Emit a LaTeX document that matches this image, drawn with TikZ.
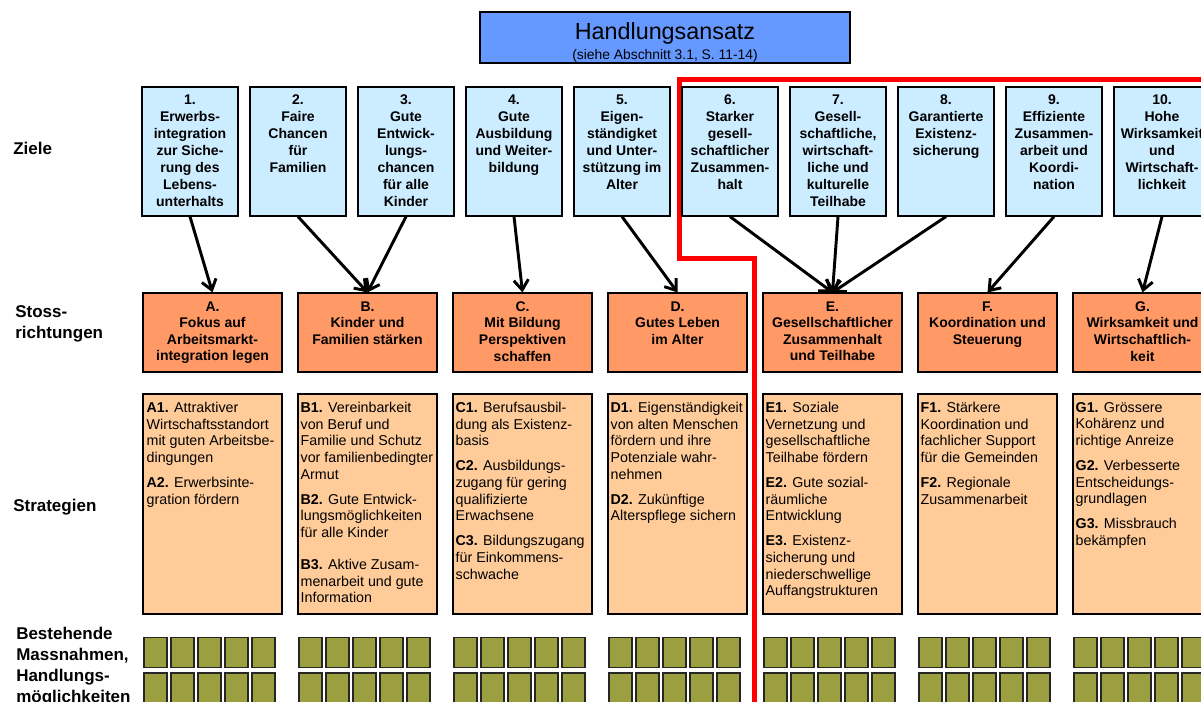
\documentclass[tikz,border=0pt]{standalone}
\usepackage{fontspec}
\setmainfont{Liberation Sans}
\usetikzlibrary{arrows.meta}
\definecolor{goalblue}{HTML}{CCECFF}
\definecolor{stossorange}{HTML}{FF9966}
\definecolor{stratorange}{HTML}{FFCC99}
\definecolor{titleblue}{HTML}{6699FF}
\definecolor{massgreen}{HTML}{9C9F3F}
\definecolor{redline}{HTML}{FF0000}
\tikzset{
  goal/.style={draw=black, line width=0.9pt, fill=goalblue, minimum width=72pt, minimum height=96.75pt, inner sep=0pt},
  stoss/.style={draw=black, line width=0.9pt, fill=stossorange, minimum width=104.25pt, minimum height=59.25pt, inner sep=0pt},
  strat/.style={draw=black, line width=0.9pt, fill=stratorange, minimum width=104.25pt, minimum height=165pt, inner sep=0pt},
  mass/.style={draw=black!85, line width=1pt, fill=massgreen, minimum width=17.25pt, inner sep=0pt},
  gtext/.style={anchor=north, inner sep=0pt, align=center, font=\fontsize{10.5pt}{12.75pt}\selectfont\bfseries},
  stext/.style={anchor=north, inner sep=0pt, align=center, font=\fontsize{10.5pt}{12.4pt}\selectfont\bfseries},
  ttext/.style={anchor=north west, inner sep=0pt, align=left, font=\fontsize{10.7pt}{12.5pt}\selectfont},
  side/.style={anchor=west, inner sep=0pt, align=left, font=\fontsize{12.75pt}{15.75pt}\selectfont\bfseries},
  arr/.style={line width=2.2pt, -{Straight Barb[length=7.5pt, width=11pt]}},
  redpath/.style={draw=redline, line width=3.75pt},
}
\begin{document}
\begin{tikzpicture}[x=0.75pt, y=-0.75pt]
\clip (0,0) rectangle (1201,701);
\fill[white] (0,0) rectangle (1201,701);

% title
\node[draw=black, line width=0.9pt, fill=titleblue, minimum width=277.5pt, minimum height=38.25pt, inner sep=0pt] (title) at (665,37.5) {};
\node[anchor=base, inner sep=0pt, font=\fontsize{17.5pt}{21pt}\selectfont] (titlet) at (665,39.5) {Handlungsansatz};
\node[anchor=base, inner sep=0pt, font=\fontsize{10.4pt}{12pt}\selectfont] (titles) at (665,59) {(siehe Abschnitt 3.1, S. 11-14)};

% red boundary
\draw[redpath] (1210,79) -- (679,79) -- (679,258) -- (754,258) -- (754,710);

% side labels
\node[side] (lz) at (13,148) {Ziele};
\node[side] (ls) at (15,324) {Stoss-\\richtungen};
\node[side] (lst) at (13,507) {Strategien};
\node[side, anchor=north west] (lb) at (16,627) {Bestehende\\Massnahmen,\\Handlungs-\\möglichkeiten};

% goals
\foreach \i in {1,...,10} {
  \node[goal] (g\i) at ({190+108*(\i-1)},151.5) {};
}
\node[gtext] (g1t) at ([yshift=-6pt]g1.north) {1.\\Erwerbs-\\integration\\zur Siche-\\rung des\\Lebens-\\unterhalts};
\node[gtext] (g2t) at ([yshift=-6pt]g2.north) {2.\\Faire\\Chancen\\für\\Familien};
\node[gtext] (g3t) at ([yshift=-6pt]g3.north) {3.\\Gute\\Entwick-\\lungs-\\chancen\\für alle\\Kinder};
\node[gtext] (g4t) at ([yshift=-6pt]g4.north) {4.\\Gute\\Ausbildung\\und Weiter-\\bildung};
\node[gtext] (g5t) at ([yshift=-6pt]g5.north) {5.\\Eigen-\\ständigket\\und Unter-\\stützung im\\Alter};
\node[gtext] (g6t) at ([yshift=-6pt]g6.north) {6.\\Starker\\gesell-\\schaftlicher\\Zusammen-\\halt};
\node[gtext] (g7t) at ([yshift=-6pt]g7.north) {7.\\Gesell-\\schaftliche,\\wirtschaft-\\liche und\\kulturelle\\Teilhabe};
\node[gtext] (g8t) at ([yshift=-6pt]g8.north) {8.\\Garantierte\\Existenz-\\sicherung};
\node[gtext] (g9t) at ([yshift=-6pt]g9.north) {9.\\Effiziente\\Zusammen-\\arbeit und\\Koordi-\\nation};
\node[gtext] (g10t) at ([yshift=-6pt]g10.north) {10.\\Hohe\\Wirksamkeit\\und\\Wirtschaft-\\lichkeit};

% stossrichtungen and strategies
\foreach \n [count=\k from 0] in {A,B,C,D,E,F,G} {
  \node[stoss] (s\n) at ({212.5+155*\k},332.5) {};
  \node[strat] (t\n) at ({212.5+155*\k},504) {};
}
\node[stext] (sAt) at ([yshift=-6.75pt]sA.north) {A.\\Fokus auf\\Arbeitsmarkt-\\integration legen};
\node[stext] (sBt) at ([yshift=-6.75pt]sB.north) {B.\\Kinder und\\Familien stärken};
\node[stext] (sCt) at ([yshift=-6.75pt]sC.north) {C.\\Mit Bildung\\Perspektiven\\schaffen};
\node[stext] (sDt) at ([yshift=-6.75pt]sD.north) {D.\\Gutes Leben\\im Alter};
\node[stext] (sEt) at ([yshift=-6.75pt]sE.north) {E.\\Gesellschaftlicher\\Zusammenhalt\\und Teilhabe};
\node[stext] (sFt) at ([yshift=-6.75pt]sF.north) {F.\\Koordination und\\Steuerung};
\node[stext] (sGt) at ([yshift=-6.75pt]sG.north) {G.\\Wirksamkeit und\\Wirtschaftlich-\\keit};

\node[ttext] (tAt) at ([xshift=3pt,yshift=-6.4pt]tA.north west) {\textbf{A1.} Attraktiver\\Wirtschaftsstandort\\mit guten Arbeitsbe-\\dingungen\\[6.2pt]\textbf{A2.} Erwerbsinte-\\gration fördern};
\node[ttext] (tBt) at ([xshift=2.25pt,yshift=-6.4pt]tB.north west) {\textbf{B1.} Vereinbarkeit\\von Beruf und\\Familie und Schutz\\vor familienbedingter\\Armut\\[6.2pt]\textbf{B2.} Gute Entwick-\\lungsmöglichkeiten\\für alle Kinder\\[11.4pt]\textbf{B3.} Aktive Zusam-\\menarbeit und gute\\Information};
\node[ttext] (tCt) at ([xshift=2.25pt,yshift=-6.4pt]tC.north west) {\textbf{C1.} Berufsausbil-\\dung als Existenz-\\basis\\[6.2pt]\textbf{C2.} Ausbildungs-\\zugang für gering\\qualifizierte\\Erwachsene\\[6.2pt]\textbf{C3.} Bildungszugang\\für Einkommens-\\schwache};
\node[ttext] (tDt) at ([xshift=2.25pt,yshift=-6.4pt]tD.north west) {\textbf{D1.} Eigenständigkeit\\von alten Menschen\\fördern und ihre\\Potenziale wahr-\\nehmen\\[6.2pt]\textbf{D2.} Zukünftige\\Alterspflege sichern};
\node[ttext] (tEt) at ([xshift=2.25pt,yshift=-6.4pt]tE.north west) {\textbf{E1.} Soziale\\Vernetzung und\\gesellschaftliche\\Teilhabe fördern\\[6.2pt]\textbf{E2.} Gute sozial-\\räumliche\\Entwicklung\\[6.2pt]\textbf{E3.} Existenz-\\sicherung und\\niederschwellige\\Auffangstrukturen};
\node[ttext] (tFt) at ([xshift=2.25pt,yshift=-6.4pt]tF.north west) {\textbf{F1.} Stärkere\\Koordination und\\fachlicher Support\\für die Gemeinden\\[6.2pt]\textbf{F2.} Regionale\\Zusammenarbeit};
\node[ttext] (tGt) at ([xshift=2.25pt,yshift=-6.4pt]tG.north west) {\textbf{G1.} Grössere\\Kohärenz und\\richtige Anreize\\[6.2pt]\textbf{G2.} Verbesserte\\Entscheidungs-\\grundlagen\\[6.2pt]\textbf{G3.} Missbrauch\\bekämpfen};

% existing measures
\foreach \n [count=\k from 0] in {A,B,C,D,E,F,G} {
  \foreach \c in {0,...,4} {
    \node[mass, minimum height=22.5pt] (m\n\c a) at ({143+155*\k+27*\c+12.5},652.5) {};
    \node[mass, minimum height=25.5pt] (m\n\c b) at ({143+155*\k+27*\c+12.5},690) {};
  }
}

% connectors
\draw[arr] (g1.south) -- (sA.north);
\draw[arr] (g2.south) -- (sB.north);
\draw[arr] (g3.south) -- (sB.north);
\draw[arr] (g4.south) -- (sC.north);
\draw[arr] (g5.south) -- (sD.north);
\draw[arr] (g6.south) -- (sE.north);
\draw[arr] (g7.south) -- (sE.north);
\draw[arr] (g8.south) -- (sE.north);
\draw[arr] (g9.south) -- (sF.north);
\draw[arr] (g10.south) -- (sG.north);
\end{tikzpicture}
\end{document}
